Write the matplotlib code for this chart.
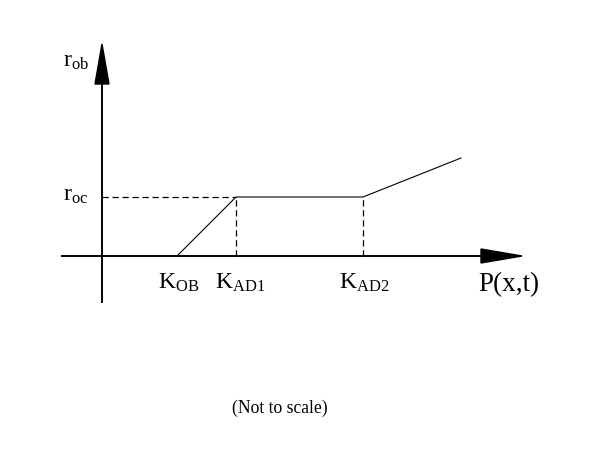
import matplotlib
matplotlib.use("Agg")
import matplotlib.pyplot as plt
from matplotlib.patches import Polygon

plt.rcParams['mathtext.fontset'] = 'custom'
plt.rcParams['mathtext.rm'] = 'Liberation Serif'
plt.rcParams['mathtext.it'] = 'Liberation Serif'
plt.rcParams['font.family'] = 'Liberation Serif'

# Schematic values (not to scale), origin at axis crossing
k_labels = [r'$\mathrm{K}_{\mathrm{OB}}$', r'$\mathrm{K}_{\mathrm{AD1}}$', r'$\mathrm{K}_{\mathrm{AD2}}$']
k_values = [75, 134, 261]
curve_x = [75, 134, 261, 359]
curve_y = [0, 59, 59, 98]
r_oc = 59
y_label = r'$\mathrm{r}_{\mathrm{ob}}$'
r_oc_label = r'$\mathrm{r}_{\mathrm{oc}}$'
x_label = 'P(x,t)'
note = '(Not to scale)'

fig = plt.figure(figsize=(6, 4.53), dpi=100)
ax = fig.add_axes([0, 0, 1, 1])
ax.set_xlim(-102, 498)
ax.set_ylim(-197, 256)
ax.axis('off')

# axes
ax.plot([-40, 380], [0, 0], color='black', lw=1.4)
ax.plot([0, 0], [-46, 175], color='black', lw=1.4)
ax.add_patch(Polygon([[0, 212], [-7, 172], [7, 172]], closed=True, color='black'))
ax.add_patch(Polygon([[420, 0], [379, 7], [379, -7]], closed=True, color='black'))

# curve
ax.plot(curve_x, curve_y, color='black', lw=0.8)

# dashed guides
ax.plot([0, k_values[1]], [r_oc, r_oc], color='black', lw=0.9, ls=(0, (5, 3)))
ax.plot([k_values[1], k_values[1]], [0, r_oc], color='black', lw=0.9, ls=(0, (5, 3)))
ax.plot([k_values[2], k_values[2]], [0, r_oc], color='black', lw=0.9, ls=(0, (5, 3)))

# labels
fs = 17
offsets = [2, 4, 1]
for lab, kv, off in zip(k_labels, k_values, offsets):
    ax.text(kv + off, -27, lab, fontsize=fs, ha='center', va='center')
ax.text(-26, 194, y_label, fontsize=fs, ha='center', va='center')
ax.text(-26, r_oc + 1, r_oc_label, fontsize=fs, ha='center', va='center')
ax.text(407, -29, x_label, fontsize=19.5, ha='center', va='center')
ax.text(178, -152, note, fontsize=12.7, ha='center', va='center')

fig.savefig('out.png', dpi=100)
